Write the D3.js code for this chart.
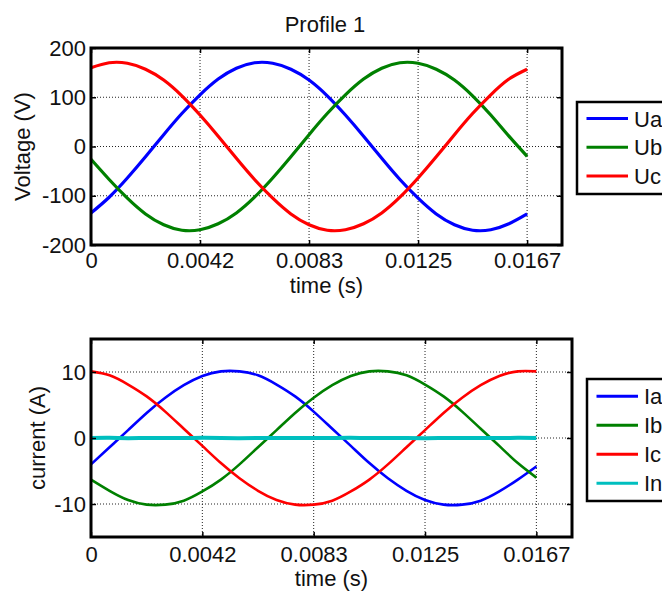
<!DOCTYPE html>
<html>
<head>
<meta charset="utf-8">
<script src="https://cdn.jsdelivr.net/npm/d3@7"></script>
<style>
    body { margin: 0; background: #fff; }
    svg { display: block; font-family: "Liberation Sans", Arial, Helvetica, sans-serif; }
</style>
</head>
<body>
<svg id="chart" width="662" height="592"></svg>
<script>
'use strict';

// Instants d'echantillonnage (s), une periode a 60 Hz
const TEMPS = [0, 0.000694, 0.001389, 0.002083, 0.002778, 0.003472, 0.004167, 0.004861,
    0.005556, 0.00625, 0.006944, 0.007639, 0.008333, 0.009028, 0.009722, 0.010417,
    0.011111, 0.011806, 0.0125, 0.013194, 0.013889, 0.014583, 0.015278, 0.015972, 0.016667];

// Tensions (V)
const UA = [-135, -103, -64, -21, 24, 67, 105, 137, 159, 170, 169, 157, 135, 103, 64, 21,
    -24, -67, -105, -137, -159, -170, -169, -157, -137];
const UB = [-26, -67, -105, -137, -159, -170, -169, -157, -135, -103, -64, -21, 24, 67, 105, 137,
    159, 170, 169, 157, 135, 103, 64, 21, -20];
const UC = [160, 170, 169, 157, 135, 103, 64, 21, -24, -67, -105, -137, -159, -170, -169, -157,
    -135, -103, -64, -21, 24, 67, 105, 137, 157];

// Courants (A)
const IA = [-4.0, -1.4, 1.2, 3.8, 6.1, 8.0, 9.4, 10.1, 10.1, 9.5, 8.1, 6.3, 4.0, 1.4, -1.2, -3.8,
    -6.1, -8.0, -9.4, -10.1, -10.1, -9.5, -8.1, -6.3, -4.3];
const IB = [-6.3, -8.0, -9.4, -10.1, -10.1, -9.5, -8.1, -6.3, -4.0, -1.4, 1.2, 3.8, 6.1, 8.0, 9.4, 10.1,
    10.1, 9.5, 8.1, 6.3, 4.0, 1.4, -1.2, -3.8, -6.0];
const IC = [10.1, 9.5, 8.1, 6.3, 4.0, 1.4, -1.2, -3.8, -6.1, -8.0, -9.4, -10.1, -10.1, -9.5, -8.1, -6.3,
    -4.0, -1.4, 1.2, 3.8, 6.1, 8.0, 9.4, 10.1, 10.1];
const IN = [0, 0.02, -0.02, 0.01, 0, -0.01, 0.02, 0, -0.02, 0.01, 0, 0.01, -0.01, 0, 0.02, -0.01,
    0, 0.01, -0.02, 0, 0.01, 0, -0.01, 0.02, 0];

// Axes et legendes
const X_TICKS = [0, 0.0041667, 0.0083333, 0.0125, 0.0166667];
const X_TICK_LABELS = ["0", "0.0042", "0.0083", "0.0125", "0.0167"];
const U_TICKS = [-200, -100, 0, 100, 200];
const I_TICKS = [-10, 0, 10];
const U_NOMS = ["Ua", "Ub", "Uc"];
const I_NOMS = ["Ia", "Ib", "Ic", "In"];
const COULEURS = ["#0000ff", "#008000", "#ff0000", "#00bfbf"];

const svg = d3.select("#chart");
const POLICE = "22px";

/**
 * Dessiner un graphe (cadre, grille, ticks, courbes, legende)
 * @param {*} p parametres du panneau
 */
function dessinerPanneau(p) {
    const x = d3.scaleLinear().domain([0, 0.018]).range([p.gauche, p.droite]);
    const y = d3.scaleLinear().domain(p.yDomaine).range([p.bas, p.haut]);
    const g = svg.append("g");

    // Grille pointillee
    g.selectAll(".gx").data(X_TICKS.slice(1)).enter().append("line")
        .attr("x1", d => x(d)).attr("x2", d => x(d))
        .attr("y1", p.haut).attr("y2", p.bas)
        .attr("stroke", "#222").attr("stroke-width", 1).attr("stroke-dasharray", "1,2");
    g.selectAll(".gy").data(p.yTicks.filter(d => d > p.yDomaine[0] && d < p.yDomaine[1])).enter().append("line")
        .attr("x1", p.gauche).attr("x2", p.droite)
        .attr("y1", d => y(d)).attr("y2", d => y(d))
        .attr("stroke", "#222").attr("stroke-width", 1).attr("stroke-dasharray", "1,2");

    // Courbes
    p.series.forEach((s, k) => {
        const ligne = d3.line()
            .x((d, i) => x(TEMPS[i]))
            .y(d => y(d))
            .curve(d3.curveNatural);
        g.append("path")
            .datum(s)
            .attr("fill", "none")
            .attr("stroke", COULEURS[k])
            .attr("stroke-width", p.epaisseurs[k])
            .attr("stroke-linejoin", "round")
            .attr("d", ligne);
    });

    // Axes (ticks vers l'interieur)
    const axeBas = g.append("g").attr("transform", `translate(0,${p.bas})`)
        .call(d3.axisBottom(x).tickValues(X_TICKS).tickFormat((d, i) => X_TICK_LABELS[i])
            .tickSizeInner(-5).tickSizeOuter(0).tickPadding(p.padX));
    const axeHaut = g.append("g").attr("transform", `translate(0,${p.haut})`)
        .call(d3.axisTop(x).tickValues(X_TICKS).tickFormat("").tickSizeInner(-5).tickSizeOuter(0));
    const axeGauche = g.append("g").attr("transform", `translate(${p.gauche},0)`)
        .call(d3.axisLeft(y).tickValues(p.yTicks).tickFormat(d => d.toString())
            .tickSizeInner(-5).tickSizeOuter(0).tickPadding(5));
    const axeDroit = g.append("g").attr("transform", `translate(${p.droite},0)`)
        .call(d3.axisRight(y).tickValues(p.yTicks).tickFormat("").tickSizeInner(-5).tickSizeOuter(0));

    [axeBas, axeHaut, axeGauche, axeDroit].forEach(a => {
        a.select(".domain").remove();
        a.selectAll(".tick line").attr("stroke", "#000").attr("stroke-width", 1.5);
        a.selectAll("text").attr("fill", "#111").style("font-size", POLICE)
            .style("font-family", '"Liberation Sans", Arial, sans-serif');
    });

    // Cadre
    g.append("rect")
        .attr("x", p.gauche).attr("y", p.haut)
        .attr("width", p.droite - p.gauche).attr("height", p.bas - p.haut)
        .attr("fill", "none").attr("stroke", "#000").attr("stroke-width", 3);

    // Titres des axes
    g.append("text")
        .attr("x", (p.gauche + p.droite) / 2).attr("y", p.xLabelY)
        .attr("text-anchor", "middle").style("font-size", POLICE).attr("fill", "#111")
        .text("time (s)");
    g.append("text")
        .attr("transform", `translate(${p.yLabelX},${(p.haut + p.bas) / 2}) rotate(-90)`)
        .attr("text-anchor", "middle").style("font-size", POLICE).attr("fill", "#111")
        .text(p.yLabel);

    // Legende
    const lg = p.legende;
    const leg = g.append("g").attr("transform", `translate(${lg.x},${lg.y})`);
    leg.append("rect")
        .attr("width", 110).attr("height", lg.h)
        .attr("fill", "#fff").attr("stroke", "#000").attr("stroke-width", 2.5);
    p.noms.forEach((nom, k) => {
        const cy = lg.premier + k * lg.pas;
        leg.append("line")
            .attr("x1", 9.5).attr("x2", 51).attr("y1", cy).attr("y2", cy)
            .attr("stroke", COULEURS[k]).attr("stroke-width", 3);
        leg.append("text")
            .attr("x", 57).attr("y", cy + 8)
            .style("font-size", POLICE).attr("fill", "#111")
            .text(nom);
    });
}

// Titre general
svg.append("text")
    .attr("x", 325).attr("y", 32)
    .attr("text-anchor", "middle").style("font-size", POLICE).attr("fill", "#111")
    .text("Profile 1");

// Graphe des tensions
dessinerPanneau({
    gauche: 91, droite: 562, haut: 48, bas: 245,
    yDomaine: [-200, 200], yTicks: U_TICKS,
    series: [UA, UB, UC], epaisseurs: [3.2, 3.2, 3.2], noms: U_NOMS,
    padX: 7.5, xLabelY: 293, yLabelX: 30, yLabel: "Voltage (V)",
    legende: { x: 577, y: 102, h: 92, premier: 16.5, pas: 28.7 }
});

// Graphe des courants
dessinerPanneau({
    gauche: 91, droite: 572, haut: 339, bas: 537,
    yDomaine: [-15, 15], yTicks: I_TICKS,
    series: [IA, IB, IC, IN], epaisseurs: [2.6, 2.6, 2.6, 4], noms: I_NOMS,
    padX: 9.5, xLabelY: 586, yLabelX: 45, yLabel: "current (A)",
    legende: { x: 587, y: 379, h: 122, premier: 17.3, pas: 29 }
});
</script>
</body>
</html>
